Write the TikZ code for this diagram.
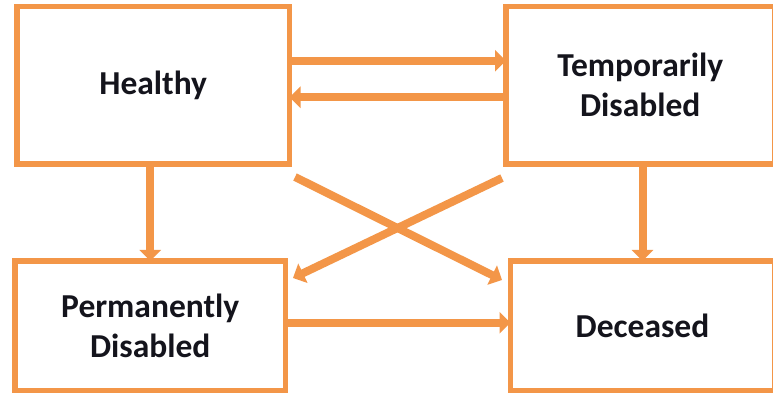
\documentclass[tikz,border=0pt]{standalone}
\usepackage{fontspec}
\setmainfont{Carlito}
\usetikzlibrary{arrows.meta,calc}
\definecolor{boxorange}{RGB}{243,150,72}
\definecolor{labelink}{RGB}{20,20,28}
\begin{document}
\begin{tikzpicture}[x=1pt,y=-1pt,
  state/.style={draw=boxorange,line width=5.5pt,fill=white,outer sep=0pt,
    inner sep=0pt,align=center,text=labelink,
    font=\fontsize{33.5}{40}\selectfont\bfseries},
  flow/.style={draw=boxorange,line width=8pt,
    -{Triangle[length=11pt,width=21pt]}}]
  \useasboundingbox (0,0) rectangle (773,395);
  % the four states
  \node[state,minimum width=272.5pt,minimum height=157.5pt] (H) at (153.25,85.25) {Healthy};
  \node[state,minimum width=268.5pt,minimum height=157.5pt] (T) at (640.25,85.25) {Temporarily\\Disabled};
  \node[state,minimum width=270.5pt,minimum height=129.5pt] (P) at (150.25,325.75) {Permanently\\Disabled};
  \node[state,minimum width=264pt,minimum height=129.5pt] (D) at (642.5,325.75) {Deceased};
  % transitions between the top pair
  \draw[flow] ([yshift=24.5pt]H.east) -- ([yshift=24.5pt]T.west);
  \draw[flow] ([yshift=-12pt]T.west) -- ([yshift=-12pt]H.east);
  % downward transitions
  \draw[flow] (H.south -| P.north) -- (P.north);
  \draw[flow] (T.south -| D.north) -- (D.north);
  % crossing transitions
  \draw[flow] ($(H.south east)+(5.5,13)$) -- ($(D.north west)+(-8.5,19)$);
  \draw[flow] ($(T.south west)+(-4,14)$) -- ($(P.north east)+(7.5,17)$);
  % permanently disabled to deceased
  \draw[flow] ([yshift=3pt]P.east) -- ([yshift=3pt]D.west);
\end{tikzpicture}
\end{document}
